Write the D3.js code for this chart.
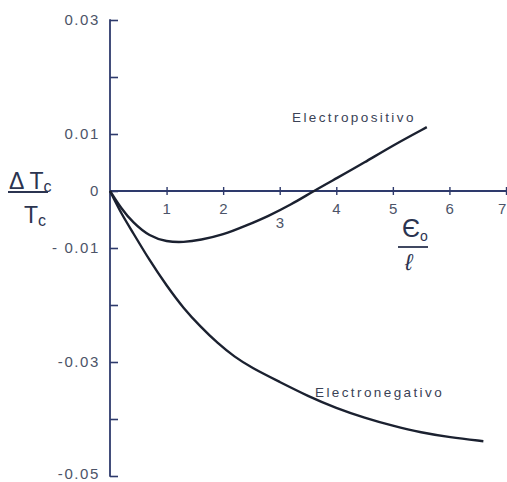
<!DOCTYPE html>
<html>
<head>
<meta charset="utf-8">
<script src="https://cdn.jsdelivr.net/npm/d3@7"></script>
<style>
  html, body { margin: 0; padding: 0; background: #ffffff; }
  svg { display: block; }
  .tick-label { font-family: "Liberation Sans", Arial, sans-serif; font-size: 15px; fill: #4c5468; letter-spacing: 1.6px; }
  .curve-label { font-family: "Liberation Sans", Arial, sans-serif; font-size: 13.5px; fill: #3a4256; letter-spacing: 2.4px; }
  .title { font-family: "Liberation Sans", Arial, sans-serif; fill: #2b3450; }
</style>
</head>
<body>
<svg id="chart" width="507" height="482"></svg>
<script>
// ε0/ℓ values along the horizontal axis
const electropositivoX = [0, 0.2, 0.4, 0.7, 1.0, 1.3, 1.6, 2.0, 2.4, 2.8, 3.2, 3.6, 4.0, 4.5, 5.0, 5.6];
const electropositivoY = [0, -0.0031, -0.0055, -0.0080, -0.0089, -0.0090, -0.0086, -0.0077, -0.0061, -0.0044, -0.0024, 0.0000, 0.0022, 0.0050, 0.0080, 0.0112];

const electronegativoX = [0, 0.2, 0.4, 0.7, 1.0, 1.3, 1.6, 1.9, 2.2, 2.5, 3.0, 3.5, 4.0, 4.5, 5.0, 5.5, 6.0, 6.6];
const electronegativoY = [0, -0.0040, -0.0072, -0.0122, -0.0166, -0.0206, -0.0238, -0.0267, -0.0291, -0.0310, -0.0335, -0.0360, -0.0381, -0.0398, -0.0412, -0.0424, -0.0432, -0.0439];

// axis ticks
const xTicks = [1, 2, 3, 4, 5, 6, 7];
const xTickLabels = ["1", "2", "3", "4", "5", "6", "7"];
const yTicks = [0.03, 0.02, 0.01, 0, -0.01, -0.02, -0.03, -0.04, -0.05];
const yTickLabels = ["0.03", "", "0.01", "0", "- 0.01", "", "-0.03", "", "-0.05"];

const svg = d3.select("#chart");
const axisColor = "#2e3a6c";
const curveColor = "#1b2130";

const x = d3.scaleLinear().domain([0, 7]).range([110, 506]);
const y = d3.scaleLinear().domain([-0.05, 0.03]).range([476, 20]);

// vertical axis with ticks pointing right
const yAxis = d3.axisRight(y).tickValues(yTicks).tickSize(8).tickFormat("");
const gy = svg.append("g").attr("transform", `translate(${x(0)},0)`).call(yAxis);
gy.select(".domain").remove();
gy.selectAll(".tick line").attr("stroke", axisColor).attr("stroke-width", 1.6);
svg.append("line")
  .attr("x1", x(0)).attr("x2", x(0))
  .attr("y1", y(0.03) - 0.8).attr("y2", y(-0.05) + 0.8)
  .attr("stroke", axisColor).attr("stroke-width", 1.8);

// horizontal axis through zero with small crossing ticks
svg.append("line")
  .attr("x1", x(0)).attr("x2", 507)
  .attr("y1", y(0)).attr("y2", y(0))
  .attr("stroke", axisColor).attr("stroke-width", 1.8);
const xAxis = d3.axisBottom(x).tickValues(xTicks).tickSize(4).tickFormat("");
const gx = svg.append("g").attr("transform", `translate(0,${y(0)})`).call(xAxis);
gx.select(".domain").remove();
gx.selectAll(".tick line").attr("y1", -4).attr("stroke", axisColor).attr("stroke-width", 1.4);

// x tick labels (3 sits lower, below the curve; 7 kept inside the right edge)
svg.selectAll(".xlab").data(xTicks).enter().append("text")
  .attr("class", "tick-label")
  .attr("x", d => d === 7 ? x(d) - 3 : x(d) + 1)
  .attr("y", d => d === 3 ? y(0) + 37 : y(0) + 23)
  .attr("text-anchor", "middle")
  .text((d, i) => xTickLabels[i]);

// y tick labels (the lowest one is nudged up to stay inside the frame)
svg.selectAll(".ylab").data(yTicks.filter((d, i) => yTickLabels[i] !== "")).enter().append("text")
  .attr("class", "tick-label")
  .attr("x", 100)
  .attr("y", d => d === -0.05 ? y(d) + 3 : y(d) + 5)
  .attr("text-anchor", "end")
  .text(d => yTickLabels[yTicks.indexOf(d)]);

// curves
const line = d3.line()
  .x(d => x(d[0]))
  .y(d => y(d[1]))
  .curve(d3.curveBasis);

svg.append("path")
  .datum(electropositivoX.map((v, i) => [v, electropositivoY[i]]))
  .attr("d", line)
  .attr("fill", "none").attr("stroke", curveColor).attr("stroke-width", 2.4);

svg.append("path")
  .datum(electronegativoX.map((v, i) => [v, electronegativoY[i]]))
  .attr("d", line)
  .attr("fill", "none").attr("stroke", curveColor).attr("stroke-width", 2.4);

// curve labels
svg.append("text").attr("class", "curve-label")
  .attr("x", 292).attr("y", 122).text("Electropositivo");
svg.append("text").attr("class", "curve-label")
  .attr("x", 315).attr("y", 397).text("Electronegativo");

// vertical axis title: ΔTc / Tc
const yt = svg.append("text").attr("class", "title").attr("font-size", 23).attr("x", 9).attr("y", 189);
yt.append("tspan").text("Δ T");
yt.append("tspan").attr("font-size", 16).attr("dy", 3).text("c");
svg.append("line").attr("x1", 8).attr("x2", 48).attr("y1", 192).attr("y2", 192)
  .attr("stroke", "#2b3450").attr("stroke-width", 1.8);
const yb = svg.append("text").attr("class", "title").attr("font-size", 23).attr("x", 24).attr("y", 223);
yb.append("tspan").text("T");
yb.append("tspan").attr("font-size", 16).attr("dy", 3).text("c");

// horizontal axis title: ε0 / ℓ
const xt = svg.append("text").attr("class", "title").attr("font-size", 25).attr("x", 402).attr("y", 237);
xt.append("tspan").text("Є");
xt.append("tspan").attr("font-size", 14).attr("dy", 4).attr("dx", 0).text("o");
svg.append("line").attr("x1", 398).attr("x2", 428).attr("y1", 247).attr("y2", 247)
  .attr("stroke", "#2b3450").attr("stroke-width", 1.8);
svg.append("text").attr("class", "title").attr("font-size", 23).attr("font-style", "italic")
  .attr("x", 405).attr("y", 270).text("ℓ");
</script>
</body>
</html>
